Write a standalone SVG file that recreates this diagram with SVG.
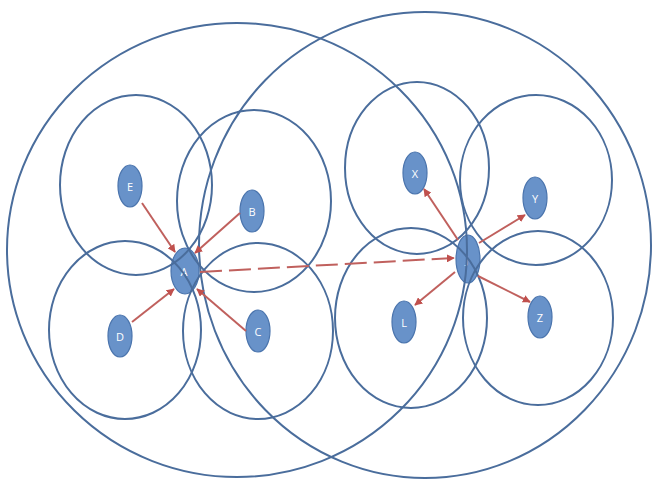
<svg xmlns="http://www.w3.org/2000/svg" width="653" height="480" viewBox="0 0 653 480">
<defs>
<style>
.rng{fill:none;stroke:#4a6d9c;stroke-width:2}
.nd{fill:#6892c9;stroke:#4a74ad;stroke-width:1.2}
.lb{fill:#ffffff;font-family:"Open Sans","Liberation Sans",sans-serif;font-size:11px;text-anchor:middle;dominant-baseline:central}
.ar{fill:none;stroke:#c0605d;stroke-width:2;marker-end:url(#ah)}
.ds{stroke-dasharray:22 7}
</style>
<marker id="ah" viewBox="0 0 10 10" refX="9" refY="5" markerWidth="4" markerHeight="4" orient="auto" markerUnits="strokeWidth">
<path d="M0,0 L10,5 L0,10 z" fill="#c0504d"/>
</marker>
</defs>
<rect width="653" height="480" fill="#ffffff"/>
<g id="nodes">
<g id="node-E"><ellipse class="nd" cx="130" cy="186" rx="12" ry="21"/><text class="lb" x="130" y="186">E</text></g>
<g id="node-B"><ellipse class="nd" cx="252" cy="211" rx="12" ry="21"/><text class="lb" x="252" y="211">B</text></g>
<g id="node-A"><ellipse class="nd" cx="185" cy="271" rx="14" ry="23"/><text class="lb" x="184" y="271">A</text></g>
<g id="node-D"><ellipse class="nd" cx="120" cy="336" rx="12" ry="21"/><text class="lb" x="120" y="336">D</text></g>
<g id="node-C"><ellipse class="nd" cx="258" cy="331" rx="12" ry="21"/><text class="lb" x="258" y="331">C</text></g>
<g id="node-X"><ellipse class="nd" cx="415" cy="173" rx="12" ry="21"/><text class="lb" x="415" y="173">X</text></g>
<g id="node-Y"><ellipse class="nd" cx="535" cy="198" rx="12" ry="21"/><text class="lb" x="535" y="198">Y</text></g>
<g id="node-J"><ellipse class="nd" cx="468" cy="259" rx="12" ry="24"/><text class="lb" x="467" y="259">J</text></g>
<g id="node-L"><ellipse class="nd" cx="404" cy="322" rx="12" ry="21"/><text class="lb" x="404" y="322">L</text></g>
<g id="node-Z"><ellipse class="nd" cx="540" cy="317" rx="12" ry="21"/><text class="lb" x="540" y="317">Z</text></g>
</g>
<g id="ranges">
<ellipse class="rng" cx="237" cy="250" rx="230" ry="227"/>
<ellipse class="rng" cx="425" cy="245" rx="226" ry="233"/>
<ellipse class="rng" cx="136" cy="185" rx="76" ry="90"/>
<ellipse class="rng" cx="254" cy="201" rx="77" ry="91"/>
<ellipse class="rng" cx="125" cy="330" rx="76" ry="89"/>
<ellipse class="rng" cx="258" cy="331" rx="75" ry="88"/>
<ellipse class="rng" cx="417" cy="168" rx="72" ry="86"/>
<ellipse class="rng" cx="536" cy="180" rx="76" ry="85"/>
<ellipse class="rng" cx="411" cy="318" rx="76" ry="90"/>
<ellipse class="rng" cx="538" cy="318" rx="75" ry="87"/>
</g>
<g id="connectors">
<line class="ar" x1="142" y1="203" x2="175" y2="252"/>
<line class="ar" x1="240" y1="213" x2="195" y2="253"/>
<line class="ar" x1="132" y1="322" x2="174" y2="289"/>
<line class="ar" x1="246" y1="331" x2="197" y2="289"/>
<line class="ar ds" x1="200" y1="272" x2="454" y2="258"/>
<line class="ar" x1="458" y1="240" x2="424" y2="189"/>
<line class="ar" x1="479" y1="243" x2="525" y2="215"/>
<line class="ar" x1="455" y1="272" x2="415" y2="305"/>
<line class="ar" x1="478" y1="276" x2="530" y2="302"/>
</g>
</svg>
